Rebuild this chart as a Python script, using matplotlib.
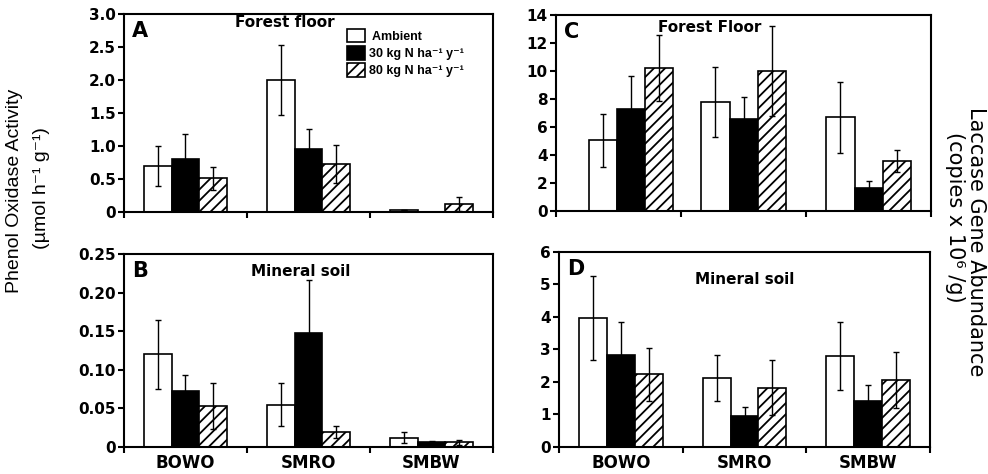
import matplotlib
matplotlib.use("Agg")
import matplotlib.pyplot as plt
import numpy as np

sites = ["BOWO", "SMRO", "SMBW"]
treatments = [" Ambient", "30 kg N ha⁻¹ y⁻¹", "80 kg N ha⁻¹ y⁻¹"]

# A: phenol oxidase, forest floor
a_amb = [0.70, 2.00, 0.03]
a_amb_err = [0.30, 0.53, 0.005]
a_n30 = [0.80, 0.95, 0.0]
a_n30_err = [0.38, 0.31, 0.0]
a_n80 = [0.51, 0.73, 0.12]
a_n80_err = [0.17, 0.29, 0.10]

# B: phenol oxidase, mineral soil
b_amb = [0.120, 0.055, 0.012]
b_amb_err = [0.045, 0.028, 0.007]
b_n30 = [0.073, 0.148, 0.006]
b_n30_err = [0.020, 0.068, 0.002]
b_n80 = [0.053, 0.019, 0.006]
b_n80_err = [0.030, 0.008, 0.003]

# C: laccase genes, forest floor
c_amb = [5.06, 7.80, 6.68]
c_amb_err = [1.90, 2.50, 2.54]
c_n30 = [7.30, 6.58, 1.66]
c_n30_err = [2.33, 1.57, 0.50]
c_n80 = [10.22, 10.00, 3.54]
c_n80_err = [2.38, 3.19, 0.79]

# D: laccase genes, mineral soil
d_amb = [3.98, 2.12, 2.80]
d_amb_err = [1.29, 0.71, 1.06]
d_n30 = [2.83, 0.95, 1.42]
d_n30_err = [1.01, 0.28, 0.48]
d_n80 = [2.24, 1.83, 2.06]
d_n80_err = [0.81, 0.85, 0.85]

a_ticks = ["0", "0.5", "1.0", "1.5", "2.0", "2.5", "3.0"]
b_ticks = ["0", "0.05", "0.10", "0.15", "0.20", "0.25"]
c_ticks = ["0", "2", "4", "6", "8", "10", "12", "14"]
d_ticks = ["0", "1", "2", "3", "4", "5", "6"]

plt.rcParams["font.family"] = ["Liberation Sans", "DejaVu Sans"]
plt.rcParams["hatch.linewidth"] = 1.3

fig = plt.figure(figsize=(9.88, 4.74), dpi=100)
ax_a = fig.add_axes([0.1255, 0.5527, 0.3735, 0.4178])
ax_b = fig.add_axes([0.1255, 0.0570, 0.3735, 0.4071])
ax_c = fig.add_axes([0.5628, 0.5549, 0.3796, 0.4135])
ax_d = fig.add_axes([0.5658, 0.0570, 0.3755, 0.4114])

bold = dict(family="DejaVu Sans", weight="bold")
width = 0.225
styles = [dict(color="white", hatch=None), dict(color="black", hatch=None),
          dict(color="white", hatch="///")]


def draw_panel(ax, series, errs, ylim, yticks, letter, title, title_xy, centers=None):
    if centers is None:
        centers = np.arange(len(sites)) + 0.5
    centers = np.asarray(centers)
    for i, (vals, err) in enumerate(zip(series, errs)):
        x = centers + (i - 1) * width
        ax.bar(x, vals, width, color=styles[i]["color"], hatch=styles[i]["hatch"],
               edgecolor="black", linewidth=1.2, label=treatments[i], zorder=2)
        ax.errorbar(x, vals, yerr=err, fmt="none", ecolor="black", elinewidth=1.0,
                    capsize=2.5, capthick=1.0, zorder=3)
    ax.set_xlim(0, len(sites))
    ax.set_ylim(0, ylim)
    ax.set_xticks(range(len(sites) + 1))
    ax.set_xticklabels([])
    ax.set_xticks(np.arange(len(sites)) + 0.5, minor=True)
    ax.tick_params(axis="x", which="minor", length=0)
    ax.tick_params(axis="x", which="major", direction="out", length=4, width=1.5)
    ticks = np.linspace(0, ylim, len(yticks))
    ax.set_yticks(ticks)
    ax.set_yticklabels(yticks, fontsize=11, **bold)
    ax.tick_params(axis="y", direction="out", length=4, width=1.5, pad=2)
    for s in ax.spines.values():
        s.set_linewidth(1.5)
    ax.text(0.022, 0.965, letter, transform=ax.transAxes, fontsize=15,
            va="top", ha="left", **bold)
    ax.text(title_xy[0], title_xy[1], title, transform=ax.transAxes, fontsize=11,
            va="center", ha="center", **bold)


draw_panel(ax_a, [a_amb, a_n30, a_n80], [a_amb_err, a_n30_err, a_n80_err],
           3.0, a_ticks, "A", "Forest floor", (0.435, 0.955))
draw_panel(ax_b, [b_amb, b_n30, b_n80], [b_amb_err, b_n30_err, b_n80_err],
           0.25, b_ticks, "B", "Mineral soil", (0.48, 0.91))
draw_panel(ax_c, [c_amb, c_n30, c_n80], [c_amb_err, c_n30_err, c_n80_err],
           14, c_ticks, "C", "Forest Floor", (0.41, 0.935),
           centers=[0.6, 1.5, 2.5])
draw_panel(ax_d, [d_amb, d_n30, d_n80], [d_amb_err, d_n30_err, d_n80_err],
           6, d_ticks, "D", "Mineral soil", (0.50, 0.86))

for ax in (ax_b, ax_d):
    ax.set_xticklabels(sites, minor=True, fontsize=12, **bold)
    ax.tick_params(axis="x", which="minor", pad=5)

ax_a.legend(loc="upper left", bbox_to_anchor=(0.605, 0.925), frameon=False,
            prop=dict(family=["Liberation Sans", "DejaVu Sans"], weight="bold", size=9),
            handlelength=1.45, handleheight=1.3, labelspacing=0.25,
            handletextpad=0.3, borderpad=0, borderaxespad=0)

fig.text(15 / 988, 1 - 191 / 474, "Phenol Oxidase Activity", rotation=90,
         ha="center", va="center", fontsize=14)
fig.text(42 / 988, 1 - 188 / 474, "(µmol h⁻¹ g⁻¹)", rotation=90,
         ha="center", va="center", fontsize=14)
fig.text(976 / 988, 1 - 242 / 474, "Laccase Gene Abundance", rotation=270,
         ha="center", va="center", fontsize=15, family="DejaVu Sans")
fig.text(955 / 988, 1 - 217 / 474, "(copies x 10⁶ /g)", rotation=270,
         ha="center", va="center", fontsize=15, family="DejaVu Sans")

fig.savefig("out.png", dpi=100)
